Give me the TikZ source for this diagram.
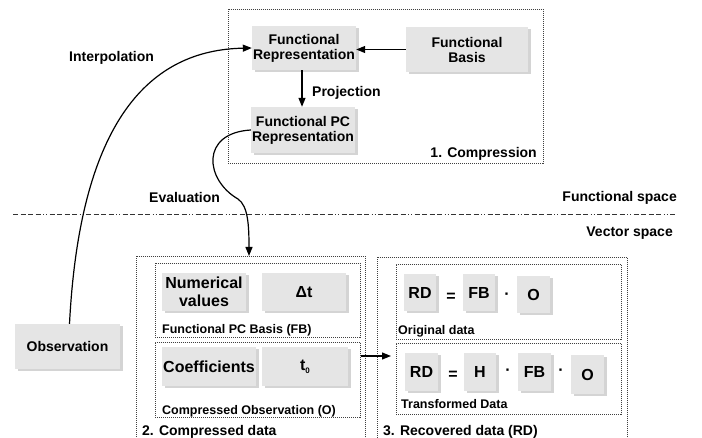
\documentclass[tikz,border=0pt]{standalone}
\usepackage{fontspec}
\setmainfont{Liberation Sans}
\usetikzlibrary{shadows,arrows.meta}
\begin{document}
\begin{tikzpicture}[x=1pt,y=-1pt,
  gbox/.style={fill=black!10, inner sep=0pt, align=center,
    font=\bfseries\fontsize{14}{15}\selectfont,
    drop shadow={shadow xshift=2.5pt, shadow yshift=-2.5pt, fill=black!17, opacity=1}},
  bigbox/.style={gbox, font=\bfseries\fontsize{16}{18}\selectfont},
  dbox/.style={draw=black!75, line width=0.8pt, dash pattern=on 1pt off 1pt, inner sep=0pt, anchor=north west},
  lbl/.style={font=\bfseries\fontsize{14}{16}\selectfont, inner sep=0pt},
  slbl/.style={font=\bfseries\fontsize{12.5}{14}\selectfont, inner sep=0pt, anchor=west},
  op/.style={font=\bfseries\fontsize{16}{18}\selectfont, inner sep=0pt},
  arr/.style={line width=1.2pt, -{Triangle[length=9pt,width=7pt]}},
  sep/.style={line width=0.8pt, black!80, dash pattern=on 5pt off 2.5pt on 5pt off 2.5pt on 5pt off 2.5pt on 5pt off 2.5pt on 1pt off 2pt on 1pt off 2.5pt}
]
\useasboundingbox (0,0) rectangle (702,438);

% dotted frames
\node[dbox, minimum width=315, minimum height=154] (comp) at (228,9) {};
\node[dbox, minimum width=229, minimum height=190] (box2) at (136,256) {};
\node[dbox, minimum width=205, minimum height=74] (fbbox) at (155,263) {};
\node[dbox, minimum width=205, minimum height=75] (obox) at (155,342) {};
\node[dbox, minimum width=250, minimum height=190] (box3) at (377,257) {};
\node[dbox, minimum width=225, minimum height=75] (origbox) at (396,264) {};
\node[dbox, minimum width=225, minimum height=71] (transbox) at (396,343) {};

% nodes
\node[gbox, minimum width=104, minimum height=44] (frep) at (304,48) {Functional\\Representation};
\node[gbox, minimum width=122, minimum height=45] (fbasis) at (467,49.5) {Functional\\Basis};
\node[gbox, minimum width=104, minimum height=46] (fpc) at (303,130) {Functional PC\\Representation};
\node[gbox, minimum width=105, minimum height=45] (obs) at (67.5,346.5) {Observation};

\node[bigbox, minimum width=84, minimum height=38] (numval) at (204,292) {Numerical\\values};
\node[bigbox, minimum width=84, minimum height=38] (dt) at (304,292) {Δt};
\node[bigbox, minimum width=94, minimum height=39] (coef) at (209,366.5) {Coefficients};
\node[bigbox, minimum width=86, minimum height=39] (t0) at (305,366.5) {t\raisebox{-3pt}{\fontsize{8}{8}\selectfont 0}};

\node[bigbox, minimum width=32, minimum height=37] (rd1) at (420,292.5) {RD};
\node[bigbox, minimum width=32, minimum height=37] (fb1) at (479,292.5) {FB};
\node[bigbox, minimum width=33, minimum height=37] (o1) at (533.5,294.5) {O};
\node[op] (eq1) at (451,297) {=};
\node[op] (dot1) at (507,296) {·};

\node[bigbox, minimum width=33, minimum height=38] (rd2) at (421.5,372) {RD};
\node[bigbox, minimum width=32, minimum height=38] (h2) at (480,372) {H};
\node[bigbox, minimum width=33, minimum height=38] (fb2) at (534.5,372) {FB};
\node[bigbox, minimum width=33, minimum height=39] (o2) at (587.5,374.5) {O};
\node[op] (eq2) at (453,375) {=};
\node[op] (dot2) at (508,372) {·};
\node[op] (dot3) at (561,372) {·};

% labels
\node[lbl, anchor=east] (lcomp) at (537,154) {1. Compression};
\node[lbl, anchor=west] (lproj) at (312,93) {Projection};
\node[lbl, anchor=west] (linterp) at (69,58) {Interpolation};
\node[lbl, anchor=west] (leval) at (149,197) {Evaluation};
\node[lbl, anchor=east] (lfs) at (677,198) {Functional space};
\node[lbl, anchor=east] (lvs) at (673,233) {Vector space};
\node[slbl] (lfb) at (162,330) {Functional PC Basis (FB)};
\node[slbl] (lo) at (162,411) {Compressed Observation (O)};
\node[slbl] (lorig) at (398,331) {Original data};
\node[slbl] (ltrans) at (401,404) {Transformed Data};
\node[lbl, anchor=west] (lbox2) at (142,432) {2. Compressed data};
\node[lbl, anchor=west] (lbox3) at (383,432) {3. Recovered data (RD)};

% separator
\coordinate (sepL) at (13,214);
\coordinate (sepR) at (677,214);
\draw[sep] (sepL) -- (sepR);

% connectors
\draw[arr] (fbasis.west) -- (frep.east |- fbasis.west);
\draw[arr] (frep.south -| 302,0) -- (fpc.north -| 302,0);
\draw[arr] ([xshift=2pt]obs.north) .. controls (80,120) and (150,50) .. (frep.west);
\coordinate (evalmid) at (238,199);
\coordinate (evalend) at (249,256);
\draw[arr] (fpc.west) .. controls (200,133) and (205,180) .. (evalmid)
  .. controls (248,206) and (249,225) .. (evalend);
\draw[arr, shorten >=5pt] (obox.east |- 0,356) -- (transbox.west |- 0,356);
\end{tikzpicture}
\end{document}
